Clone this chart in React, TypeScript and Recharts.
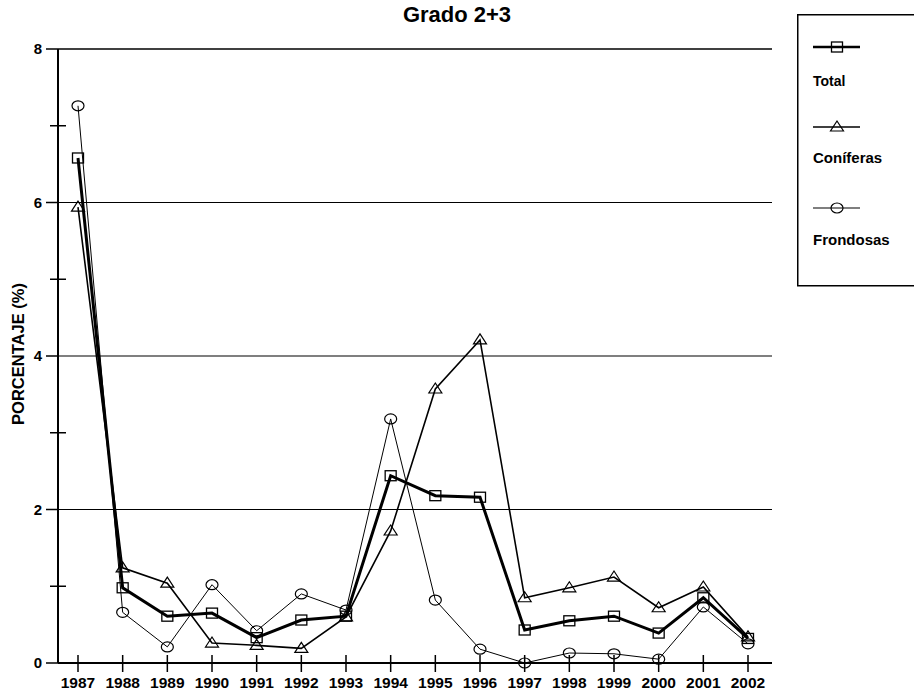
import React from 'react'
import { LineChart, Line, XAxis, YAxis, ReferenceLine } from 'recharts'

const years = ['1987', '1988', '1989', '1990', '1991', '1992', '1993', '1994', '1995', '1996', '1997', '1998', '1999', '2000', '2001', '2002']
const total = [6.58, 0.98, 0.61, 0.65, 0.33, 0.56, 0.61, 2.44, 2.18, 2.16, 0.43, 0.55, 0.61, 0.39, 0.85, 0.32]
const coniferas = [5.94, 1.24, 1.04, 0.26, 0.23, 0.19, 0.6, 1.72, 3.57, 4.21, 0.85, 0.98, 1.12, 0.72, 0.99, 0.34]
const frondosas = [7.26, 0.66, 0.21, 1.02, 0.42, 0.9, 0.69, 3.18, 0.82, 0.18, 0.0, 0.13, 0.12, 0.05, 0.73, 0.25]
const yTicks = [0, 1, 2, 3, 4, 5, 6, 7, 8]
const gridLines = [2, 4, 6]

const data = years.map((year, i) => ({
  year,
  total: total[i],
  coniferas: coniferas[i],
  frondosas: frondosas[i],
}))

const FONT = '"Liberation Sans", Arial, sans-serif'

// markers
function SquareMark({ cx, cy }: any) {
  return <rect x={cx - 5.5} y={cy - 5} width={11} height={10} fill="none" stroke="#000" strokeWidth={1.3} />
}
function TriangleMark({ cx, cy }: any) {
  return <polygon points={`${cx},${cy - 6} ${cx - 6.5},${cy + 4} ${cx + 6.5},${cy + 4}`} fill="none" stroke="#000" strokeWidth={1.2} />
}
function CircleMark({ cx, cy }: any) {
  return <ellipse cx={cx} cy={cy} rx={6} ry={5} fill="none" stroke="#000" strokeWidth={1.2} />
}

function YTick({ x, y, payload }: any) {
  const v = payload.value
  const major = v % 2 === 0
  return (
    <g>
      {major ? (
        <line x1={x - 12} x2={x} y1={y} y2={y} stroke="#000" strokeWidth={1.5} />
      ) : (
        <line x1={x - 8} x2={x + 8} y1={y} y2={y} stroke="#000" strokeWidth={1.5} />
      )}
      {major && (
        <text x={x - 16} y={y} dy={5} textAnchor="end" fontSize={15} fontWeight="bold" fontFamily={FONT} fill="#000">
          {v}
        </text>
      )}
    </g>
  )
}

function XTick({ x, y, payload }: any) {
  return (
    <g>
      <line x1={x} x2={x} y1={y - 8} y2={y + 9} stroke="#000" strokeWidth={1.5} />
      <text x={x} y={y + 25} textAnchor="middle" fontSize={15.5} fontWeight="bold" fontFamily={FONT} fill="#000">
        {payload.value}
      </text>
    </g>
  )
}

export default function App() {
  return (
    <div style={{ position: 'absolute', left: 0, top: 0, width: 914, height: 692, overflow: 'hidden', background: '#fff', fontFamily: FONT }}>
      <div style={{ position: 'absolute', left: 0, top: 4, width: 914, textAlign: 'center', fontSize: 22, lineHeight: 1, fontWeight: 'bold' }}>
        Grado 2+3
      </div>
      <div
        style={{
          position: 'absolute',
          left: 18,
          top: 354,
          transform: 'translate(-50%, -50%) rotate(-90deg)',
          whiteSpace: 'nowrap',
          fontSize: 16.5,
          fontWeight: 'bold',
          lineHeight: 1,
        }}
      >
        PORCENTAJE (%)
      </div>

      <LineChart width={914} height={692} data={data} margin={{ top: 49, right: 142, bottom: 0, left: 28 }}>
        {gridLines.map((g) => (
          <ReferenceLine key={g} y={g} stroke="#000" strokeWidth={1.1} />
        ))}
        <ReferenceLine y={8} stroke="#000" strokeWidth={1.5} />
        <XAxis
          dataKey="year"
          height={29}
          padding={{ left: 20, right: 24 }}
          axisLine={{ stroke: '#000', strokeWidth: 2 }}
          tickLine={false}
          tickSize={0}
          tickMargin={0}
          interval={0}
          tick={<XTick />}
        />
        <YAxis
          width={30}
          domain={[0, 8]}
          ticks={yTicks}
          interval={0}
          axisLine={{ stroke: '#000', strokeWidth: 2 }}
          tickLine={false}
          tickSize={0}
          tickMargin={0}
          tick={<YTick />}
        />
        <YAxis yAxisId="r" orientation="right" width={0} domain={[0, 8]} tick={false} tickLine={false} axisLine={{ stroke: '#000', strokeWidth: 1.5 }} />
        <Line
          type="linear"
          dataKey="frondosas"
          stroke="#000"
          strokeWidth={1}
          isAnimationActive={false}
          dot={(p: any) => <CircleMark key={p.index} cx={p.cx} cy={p.cy} />}
          activeDot={false}
        />
        <Line
          type="linear"
          dataKey="coniferas"
          stroke="#000"
          strokeWidth={1.6}
          isAnimationActive={false}
          dot={(p: any) => <TriangleMark key={p.index} cx={p.cx} cy={p.cy} />}
          activeDot={false}
        />
        <Line
          type="linear"
          dataKey="total"
          stroke="#000"
          strokeWidth={3}
          isAnimationActive={false}
          dot={(p: any) => <SquareMark key={p.index} cx={p.cx} cy={p.cy} />}
          activeDot={false}
        />
      </LineChart>

      <svg style={{ position: 'absolute', left: 797, top: 14 }} width={130} height={273}>
        <rect x={0.75} y={0.75} width={140} height={271} fill="none" stroke="#000" strokeWidth={1.5} />
        <line x1={16} x2={63} y1={33} y2={33} stroke="#000" strokeWidth={2.5} />
        <SquareMark cx={40} cy={33} />
        <text x={16} y={72} fontSize={14} fontWeight="bold" fontFamily={FONT}>Total</text>
        <line x1={16} x2={63} y1={113} y2={113} stroke="#000" strokeWidth={1.5} />
        <TriangleMark cx={40} cy={113} />
        <text x={16} y={149} fontSize={15} fontWeight="bold" fontFamily={FONT}>Coníferas</text>
        <line x1={16} x2={63} y1={194} y2={194} stroke="#000" strokeWidth={1.2} />
        <CircleMark cx={40} cy={194} />
        <text x={16} y={231} fontSize={15} fontWeight="bold" fontFamily={FONT}>Frondosas</text>
      </svg>
    </div>
  )
}
